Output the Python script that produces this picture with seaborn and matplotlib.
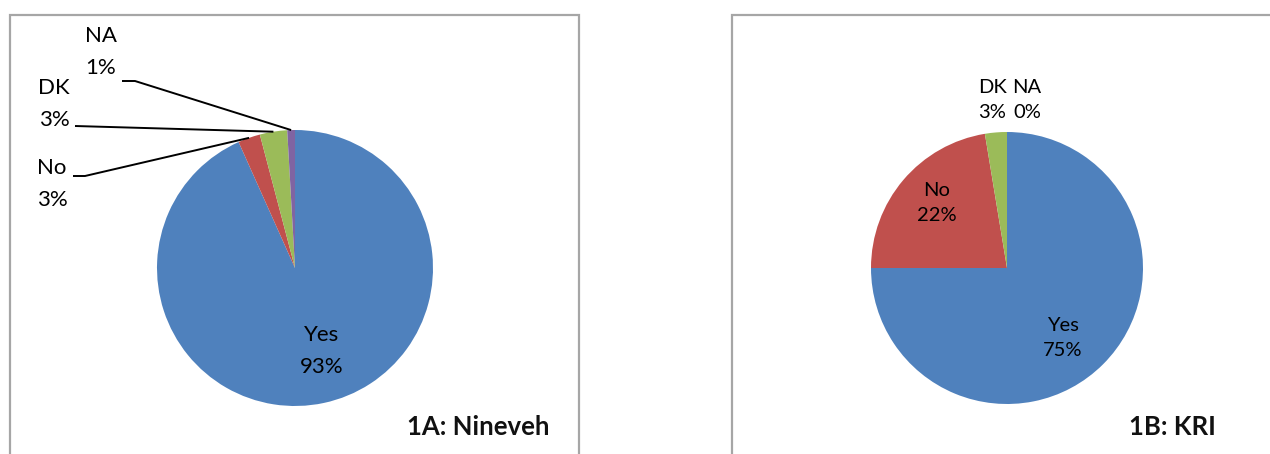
import numpy as np
import matplotlib
matplotlib.use("Agg")
import matplotlib.pyplot as plt
from matplotlib.patches import Rectangle
import seaborn as sns

# ---- data ----
categories = ["Yes", "No", "DK", "NA"]
nineveh_values = [93.3, 2.6, 3.2, 0.9]
kri_values = [75.0, 22.4, 2.6, 0.0]
panel_titles = ["1A: Nineveh", "1B: KRI"]
colors = ["#4F81BD", "#C0504D", "#9BBB59", "#8064A2"]

sns.set_theme(style="white")
plt.rcParams['font.family'] = ['Lato', 'DejaVu Sans']

W, H = 1270, 454
fig = plt.figure(figsize=(W / 100, H / 100), dpi=100)
ax = fig.add_axes([0, 0, 1, 1])


def Y(y):
    return H - y


def reset_axes():
    ax.set_xlim(0, W)
    ax.set_ylim(0, H)
    ax.set_axis_off()


reset_axes()

# panel frames
frame_col = "#A6A6A6"
ax.add_patch(Rectangle((10, -10), 569, Y(15) + 10, fill=False, ec=frame_col, lw=1.6))
ax.add_patch(Rectangle((732, -10), 600, Y(15) + 10, fill=False, ec=frame_col, lw=1.6))


def pct(v):
    return f"{int(round(v))}%"


def draw_pie(values, cx, cy, r):
    wedges, _ = ax.pie(values, colors=colors, startangle=90, counterclock=False,
                       center=(cx, Y(cy)), radius=r, frame=True,
                       wedgeprops=dict(linewidth=0))
    anchors = []
    for w in wedges:
        th = np.deg2rad((w.theta1 + w.theta2) / 2)
        anchors.append((cx + r * np.cos(th), Y(cy) + r * np.sin(th)))
    reset_axes()
    return anchors


# ---- panel 1A ----
anch1 = draw_pie(nineveh_values, 295, 268, 138)
fs1 = 16
ls1 = 1.75
ax.text(322, Y(351), f"{categories[0]}\n{pct(nineveh_values[0])}", ha="center", va="center",
        fontsize=fs1, linespacing=ls1, color="black")
# outside labels with leader lines
label_pos1 = {1: (52, 184), 2: (54, 104), 3: (101, 52)}
line_start1 = {1: [(73, 176), (85, 176)], 2: [(75, 126)], 3: [(122, 81), (135, 81)]}
for i in (1, 2, 3):
    lx, ly = label_pos1[i]
    ax.text(lx, Y(ly), f"{categories[i]}\n{pct(nineveh_values[i])}", ha="center", va="center",
            fontsize=fs1, linespacing=ls1, color="black")
    pts = [(x, Y(y)) for x, y in line_start1[i]] + [anch1[i]]
    ax.plot([p[0] for p in pts], [p[1] for p in pts], color="black", lw=1.4,
            solid_capstyle="butt")
ax.text(478, Y(427), panel_titles[0], ha="center", va="center", fontsize=18.5,
        fontweight="bold", color="#111111")

# ---- panel 1B ----
anch2 = draw_pie(kri_values, 1007, 268, 136)
fs2 = 14.5
ls2 = 1.55
label_pos2 = {0: (1063, 338), 1: (937, 203), 2: (992, 100), 3: (1027, 100)}
for i in range(4):
    lx, ly = label_pos2[i]
    ax.text(lx, Y(ly), f"{categories[i]}\n{pct(kri_values[i])}", ha="center", va="center",
            fontsize=fs2, linespacing=ls2, color="black")
ax.text(1172, Y(427), panel_titles[1], ha="center", va="center", fontsize=18.5,
        fontweight="bold", color="#111111")

fig.savefig("out.png", dpi=100)
